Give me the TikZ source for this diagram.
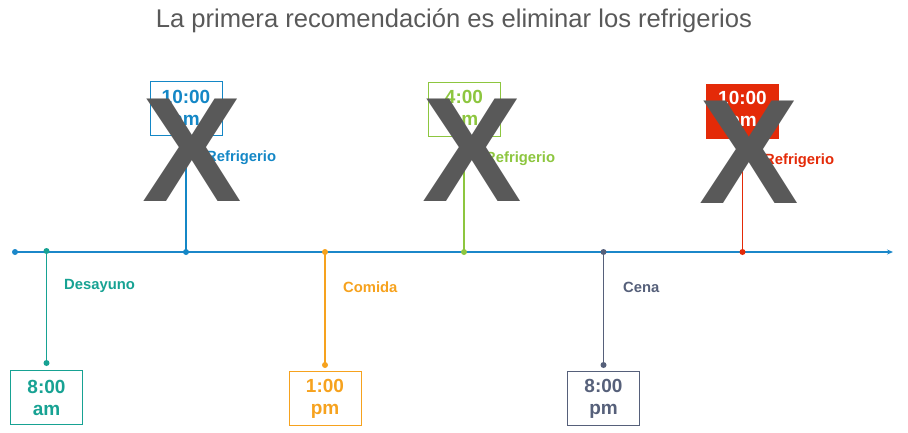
\documentclass[tikz,border=0pt]{standalone}
\usepackage{fontspec}
\setmainfont{Liberation Sans}
\usetikzlibrary{arrows.meta}
\definecolor{axisblue}{HTML}{1B87C9}
\definecolor{cteal}{HTML}{17A293}
\definecolor{cblue}{HTML}{1487C6}
\definecolor{corange}{HTML}{F6A21E}
\definecolor{cgreen}{HTML}{8DC63F}
\definecolor{cslate}{HTML}{56607A}
\definecolor{cred}{HTML}{E42A08}
\definecolor{xgray}{HTML}{595959}
\begin{document}
\begin{tikzpicture}[x=1pt,y=-1pt,
  tbox/.style={draw=#1, line width=1pt, minimum width=72pt, minimum height=54pt, inner sep=0pt, align=center, text=#1, font=\fontsize{19}{22}\selectfont\bfseries},
  lbl/.style={text=#1, font=\fontsize{14.8}{16}\selectfont\bfseries, anchor=west, inner sep=0pt},
  stem/.style={draw=#1, line width=1.2pt},
  bigx/.style={text=xgray, font=\fontsize{149}{149}\selectfont\bfseries, inner sep=0pt}
]
\useasboundingbox (0,0) rectangle (908,432);
\node[text=xgray, font=\fontsize{25.6}{30}\selectfont] (title) at (454,21) {La primera recomendación es eliminar los refrigerios};

% axis
\coordinate (s) at (15,252);
\coordinate (e) at (893,252);
\draw[axisblue, line width=1.2pt, -{Stealth[length=6pt,width=5pt]}] (s) -- (e);
\fill[axisblue] (s) circle (3pt);

% event 1: Desayuno
\coordinate (a1) at (46.5,251);
\coordinate (d1) at (46.5,363);
\node[tbox=cteal] (b1) at (46.5,397.5) {8:00\\am};
\draw[stem=cteal] (a1) -- (d1);
\fill[cteal] (a1) circle (3pt) (d1) circle (3pt);
\node[lbl=cteal] (l1) at (64,286) {Desayuno};

% event 2: 10:00 am
\coordinate (a2) at (186,252);
\node[tbox=cblue] (b2) at (186,108) {10:00\\am};
\draw[stem=cblue] (b2.south) -- (a2);
\fill[cblue] (a2) circle (3pt);
\node[lbl=cblue] (l2) at (206,158) {Refrigerio};

% event 3: Comida
\coordinate (a3) at (325,252);
\coordinate (d3) at (325,365);
\node[tbox=corange] (b3) at (325,398.5) {1:00\\pm};
\draw[stem=corange] (a3) -- (d3);
\fill[corange] (a3) circle (3pt) (d3) circle (3pt);
\node[lbl=corange] (l3) at (343,287) {Comida};

% event 4: 4:00 pm
\coordinate (a4) at (464,252);
\node[tbox=cgreen] (b4) at (464,109.5) {4:00\\pm};
\draw[stem=cgreen] (b4.south) -- (a4);
\fill[cgreen] (a4) circle (3pt);
\node[lbl=cgreen] (l4) at (485,159) {Refrigerio};

% event 5: Cena
\coordinate (a5) at (603.5,252);
\coordinate (d5) at (603.5,365);
\node[tbox=cslate] (b5) at (603.5,398.5) {8:00\\pm};
\draw[stem=cslate] (a5) -- (d5);
\fill[cslate] (a5) circle (3pt) (d5) circle (3pt);
\node[lbl=cslate] (l5) at (623,287) {Cena};

% event 6: 10:00 pm
\coordinate (a6) at (742.5,252);
\node[tbox=cred, fill=cred, text=white] (b6) at (742.5,111) {10:00\\pm};
\draw[stem=cred] (b6.south) -- (a6);
\fill[cred] (a6) circle (3pt);
\node[lbl=cred] (l6) at (764,161) {Refrigerio};

% big X marks
\node[bigx] (x2) at (192.5,150) {X};
\node[bigx] (x4) at (472.5,150) {X};
\node[bigx] (x6) at (749.5,152) {X};
\end{tikzpicture}
\end{document}
